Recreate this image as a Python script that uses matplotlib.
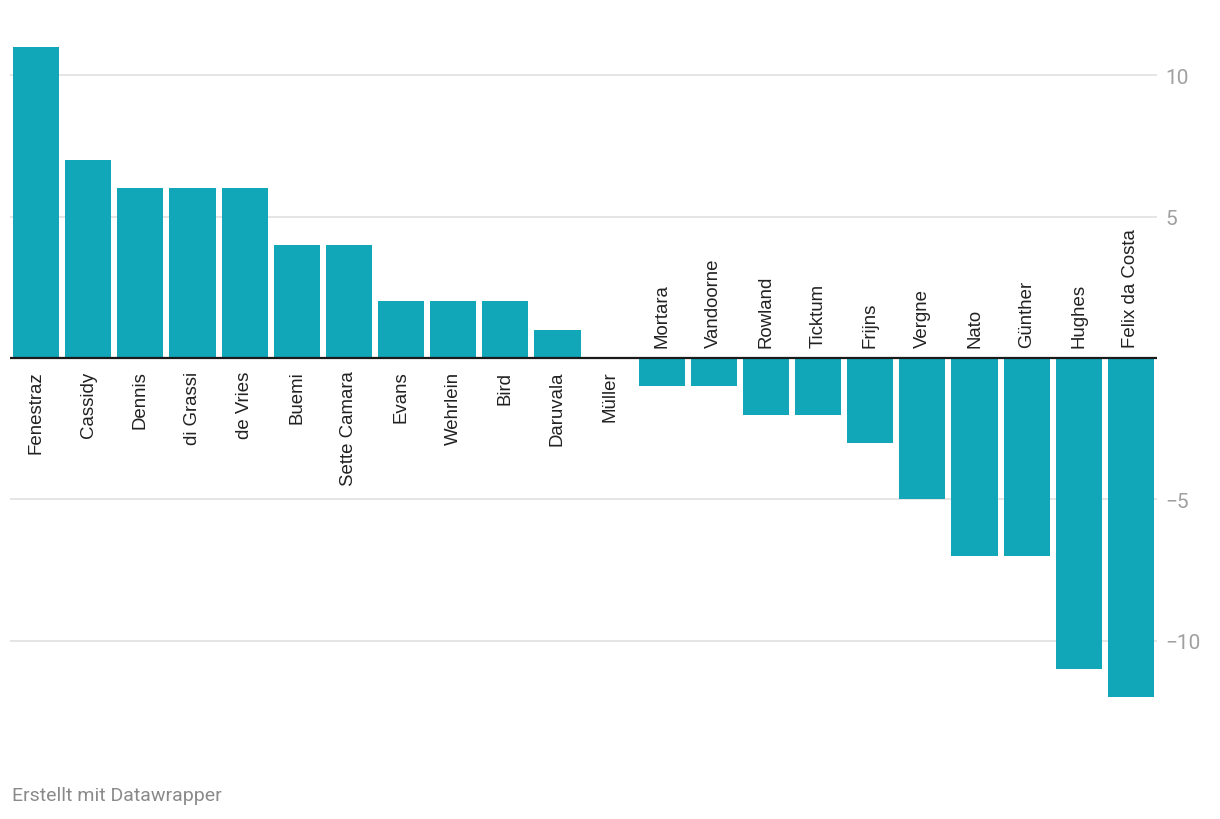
import matplotlib.pyplot as plt

plt.rcParams['font.family'] = ['Roboto', 'DejaVu Sans']

# Punkte-Differenz je Fahrer
drivers = ['Fenestraz', 'Cassidy', 'Dennis', 'di Grassi', 'de Vries', 'Buemi',
           'Sette Camara', 'Evans', 'Wehrlein', 'Bird', 'Daruvala', 'Müller',
           'Mortara', 'Vandoorne', 'Rowland', 'Ticktum', 'Frijns', 'Vergne',
           'Nato', 'Günther', 'Hughes', 'Felix da Costa']
values = [11, 7, 6, 6, 6, 4, 4, 2, 2, 2, 1, 0,
          -1, -1, -2, -2, -3, -5, -7, -7, -11, -12]
yticks = [-10, -5, 5, 10]

W, H = 1220, 820
fig = plt.figure(figsize=(W / 100, H / 100), dpi=100)
# axes in pixel coords: left 10, right 1157, top 30, bottom 720
ax = fig.add_axes([10 / W, 1 - 720 / H, 1147 / W, 690 / H])

x = list(range(len(drivers)))
ax.bar(x, values, width=0.885, color='#12a6b9', zorder=2)
ax.set_xlim(-0.5, len(drivers) - 0.5)
ax.set_ylim(-12.76, 11.63)

for t in yticks:
    ax.axhline(t, color='#e3e3e3', lw=1.3, zorder=1)
ax.axhline(0, color='#1a1a1a', lw=1.6, zorder=3)

for s in ax.spines.values():
    s.set_visible(False)
ax.set_xticks([])
ax.yaxis.tick_right()
ax.set_yticks(yticks)
ax.set_yticklabels(['\u221210', '\u22125', '5', '10'])
ax.tick_params(axis='y', length=0, pad=6, labelsize=15, labelcolor='#a0a0a0')

# Namen: positive Werte unterhalb der Null-Linie, negative oberhalb
for xi, v, name in zip(x, values, drivers):
    if v >= 0:
        ax.annotate(name, (xi, 0), xytext=(0, -9), textcoords='offset points',
                    rotation=90, ha='center', va='top', fontsize=13.4,
                    family='Liberation Sans', color='#222222')
    else:
        ax.annotate(name, (xi, 0), xytext=(0, 8), textcoords='offset points',
                    rotation=90, ha='center', va='bottom', fontsize=13.4,
                    family='Liberation Sans', color='#222222')

fig.text(12 / W, 1 - 796 / H, 'Erstellt mit Datawrapper', fontsize=14,
         color='#8a8a8a', ha='left', va='center')

fig.savefig('out.png', dpi=100)
